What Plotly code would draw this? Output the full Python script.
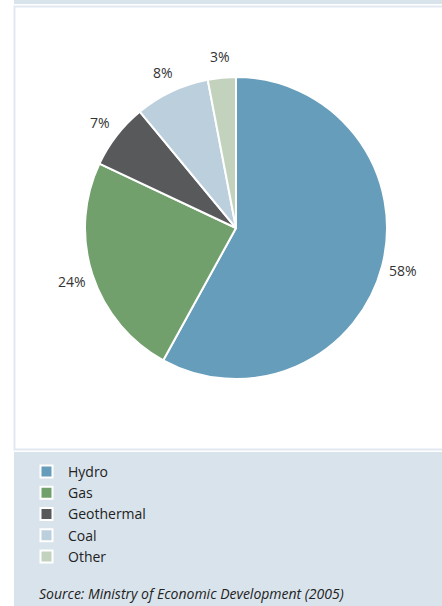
import math
import plotly.graph_objects as go

labels = ["Hydro", "Gas", "Geothermal", "Coal", "Other"]
values = [58, 24, 7, 8, 3]
colors = ["#659dbb", "#72a06c", "#58595b", "#bccfdd", "#c3d2bd"]
source = "Source: Ministry of Economic Development (2005)"

W, H = 442, 606
FONT = "Open Sans"
CX, CY, R = 236, 228, 151      # pie centre / radius in pixels
LABEL_R = R + 21               # radius at which the % labels sit

fig = go.Figure()
fig.add_trace(go.Pie(
    labels=labels, values=values,
    sort=False, direction="clockwise", rotation=0,
    marker=dict(colors=colors, line=dict(color="white", width=2)),
    textinfo="none",
    hoverinfo="label+percent",
    domain=dict(x=[(CX - R) / W, (CX + R) / W], y=[1 - (CY + R) / H, 1 - (CY - R) / H]),
))

# percentage labels placed outside each slice at its mid-angle (derived from the values)
annotations = []
total = sum(values)
cum = 0
for lab, v in zip(labels, values):
    mid = (cum + v / 2) / total * 2 * math.pi
    cum += v
    px = CX + LABEL_R * math.sin(mid)
    py = CY - LABEL_R * math.cos(mid)
    annotations.append(dict(
        text=f"{round(v / total * 100)}%", xref="paper", yref="paper",
        x=px / W, y=1 - py / H, xanchor="center", yanchor="middle", showarrow=False,
        font=dict(family=FONT, size=14, color="#333333")))

annotations.append(dict(text="<i>" + source + "</i>", xref="paper", yref="paper",
                        x=37 / W, y=1 - 593 / H, xanchor="left", yanchor="middle", showarrow=False,
                        font=dict(family=FONT, size=14, color="#222222")))

bg = "#d9e3ec"
shapes = [
    dict(type="rect", xref="paper", yref="paper", x0=14 / W, x1=1, y0=1 - 4 / H, y1=1,
         fillcolor=bg, line=dict(width=0), layer="below"),
    dict(type="rect", xref="paper", yref="paper", x0=14.5 / W, x1=1.01, y0=1 - 449.5 / H, y1=1 - 6.5 / H,
         fillcolor="white", line=dict(color="#e1e8ef", width=2), layer="below"),
    dict(type="rect", xref="paper", yref="paper", x0=14 / W, x1=1, y0=0, y1=1 - 452 / H,
         fillcolor=bg, line=dict(width=0), layer="below"),
]

fig.update_layout(
    width=W, height=H,
    margin=dict(l=0, r=0, t=0, b=0),
    paper_bgcolor="white", plot_bgcolor="white",
    shapes=shapes,
    showlegend=True,
    legend=dict(x=25 / W, y=1 - 456 / H, xanchor="left", yanchor="top",
                font=dict(family=FONT, size=14, color="#222222"),
                bgcolor="rgba(0,0,0,0)", tracegroupgap=0, itemwidth=33),
    annotations=annotations,
)

fig.write_html("out.html", config={"displayModeBar": False},
               post_script="document.body.style.margin='0';document.body.style.overflow='hidden';")
